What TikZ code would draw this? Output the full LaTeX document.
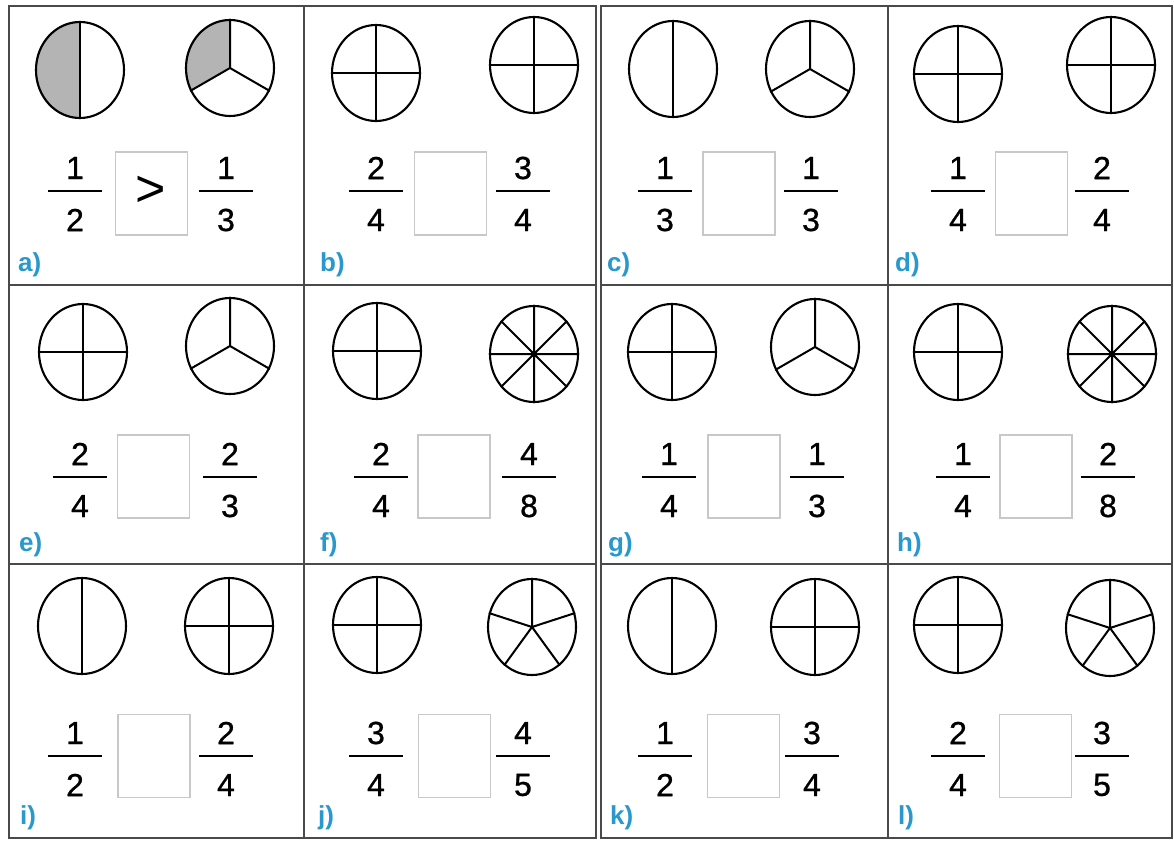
\documentclass[tikz,border=0pt]{standalone}
\usepackage{fontspec}
\setmainfont{Liberation Sans}
\newfontfamily\digitfont[FakeBold=0.8]{Liberation Sans}
\usetikzlibrary{shapes.geometric,backgrounds}
\definecolor{gridc}{HTML}{4A4A4A}
\definecolor{lblc}{RGB}{41,152,204}
\definecolor{boxc}{HTML}{C8C8C8}
\definecolor{shadec}{HTML}{B4B4B4}
\tikzset{
  disc/.style={ellipse, draw=black, line width=2.1pt, minimum width=88pt, minimum height=96pt, inner sep=0pt},
  spoke/.style={line width=2pt, draw=black},
  digit/.style={font=\digitfont\fontsize{32}{36}\selectfont, inner sep=0pt, text=black},
  fbar/.style={fill=black, minimum width=54pt, minimum height=2.8pt, inner sep=0pt},
  ansbox/.style={draw=boxc, line width=1.5pt, minimum width=72pt, minimum height=83pt, inner sep=0pt},
  lbl/.style={font=\fontsize{26}{30}\selectfont\bfseries, text=lblc, inner sep=0pt, anchor=west},
  gridline/.style={draw=gridc, line width=2.2pt},
}
\newcommand\piechart[4]{%
  \node[disc] (#1) at (#2,#3) {};
  \ifcase#4\or\or
    \draw[spoke] (#1.90) -- (#1.270);
  \or
    \draw[spoke] (#1.center) -- (#1.90) (#1.center) -- (#1.210) (#1.center) -- (#1.330);
  \or
    \draw[spoke] (#1.90) -- (#1.270) (#1.0) -- (#1.180);
  \or
    \draw[spoke] (#1.center) -- (#1.90) (#1.center) -- (#1.162) (#1.center) -- (#1.234) (#1.center) -- (#1.306) (#1.center) -- (#1.18);
  \or\or\or
    \draw[spoke] (#1.90) -- (#1.270) (#1.0) -- (#1.180) (#1.45) -- (#1.225) (#1.135) -- (#1.315);
    \fill (#1.center) circle[radius=3.5pt];
  \fi}
\newcommand\fracn[5]{%
  \node[fbar] (#1) at (#2,#3) {};
  \node[digit] (#1n) at ({#2},{#3-23}) {#4};
  \node[digit] (#1d) at ({#2},{#3+29}) {#5};}
\begin{document}
\begin{tikzpicture}[x=1pt,y=-1pt]
\useasboundingbox (0,0) rectangle (1174,841);
% grid
\draw[gridline] (9,6) rectangle (596,838);
\draw[gridline] (601,6) rectangle (1172,838);
\draw[gridline] (304,6) -- (304,838) (9,285) -- (596,285) (9,564) -- (596,564);
\draw[gridline] (888,6) -- (888,838) (601,285) -- (1172,285) (601,564) -- (1172,564);
% a
\piechart{a1}{80}{70}{2}
\piechart{a2}{230}{68}{3}
\begin{scope}[on background layer]
  \fill[white] (0,0) rectangle (1174,841);
  \fill[shadec] (a1.90) \foreach \t in {95,100,...,270}{ -- (a1.\t)} -- cycle;
  \fill[shadec] (a2.center) \foreach \t in {90,95,...,210}{ -- (a2.\t)} -- cycle;
\end{scope}
\fracn{af1}{75}{191}{1}{2}
\node[ansbox] (abox) at (151.5,193.5) {};
\node[font=\fontsize{52}{56}\selectfont, inner sep=0pt] (agt) at (151,191) {>};
\fracn{af2}{226}{191}{1}{3}
\node[lbl] (la) at (18,265) {a)};
% b
\piechart{b1}{376}{73}{4}
\piechart{b2}{534}{65}{4}
\fracn{bf1}{376}{191}{2}{4}
\node[ansbox] (bbox) at (450.5,193.5) {};
\fracn{bf2}{523}{191}{3}{4}
\node[lbl] (lb) at (320,265) {b)};
% c
\piechart{c1}{673}{69}{2}
\piechart{c2}{810}{69}{3}
\fracn{cf1}{665}{191}{1}{3}
\node[ansbox] (cbox) at (739,193.5) {};
\fracn{cf2}{811}{191}{1}{3}
\node[lbl] (lc) at (607,265) {c)};
% d
\piechart{d1}{958}{74}{4}
\piechart{d2}{1111}{65}{4}
\fracn{df1}{958}{191}{1}{4}
\node[ansbox] (dbox) at (1031.5,193.5) {};
\fracn{df2}{1102}{191}{2}{4}
\node[lbl] (ld) at (895,265) {d)};
% e
\piechart{e1}{83}{352}{4}
\piechart{e2}{230}{346}{3}
\fracn{ef1}{80}{477}{2}{4}
\node[ansbox] (ebox) at (153.5,476.5) {};
\fracn{ef2}{230}{477}{2}{3}
\node[lbl] (le) at (19,545) {e)};
% f
\piechart{f1}{377}{351}{4}
\piechart{f2}{534}{354}{8}
\fracn{ff1}{381}{477}{2}{4}
\node[ansbox] (fbox) at (454,476.5) {};
\fracn{ff2}{529}{477}{4}{8}
\node[lbl] (lf) at (320,545) {f)};
% g
\piechart{g1}{672}{352}{4}
\piechart{g2}{815}{347}{3}
\fracn{gf1}{669}{477}{1}{4}
\node[ansbox] (gbox) at (744,476.5) {};
\fracn{gf2}{817}{477}{1}{3}
\node[lbl] (lg) at (608,545) {g)};
% h
\piechart{h1}{958}{352}{4}
\piechart{h2}{1112}{354}{8}
\fracn{hf1}{963}{477}{1}{4}
\node[ansbox] (hbox) at (1036,476.5) {};
\fracn{hf2}{1108}{477}{2}{8}
\node[lbl] (lh) at (897,545) {h)};
% i
\piechart{i1}{82}{626}{2}
\piechart{i2}{229}{626}{4}
\fracn{if1}{75}{756}{1}{2}
\node[ansbox] (ibox) at (154,756) {};
\fracn{if2}{226}{756}{2}{4}
\node[lbl] (li) at (20,818) {i)};
% j
\piechart{j1}{377}{625}{4}
\piechart{j2}{532}{627}{5}
\fracn{jf1}{376}{756}{3}{4}
\node[ansbox] (jbox) at (454.5,756) {};
\fracn{jf2}{523}{756}{4}{5}
\node[lbl] (lj) at (318,818) {j)};
% k
\piechart{k1}{672}{626}{2}
\piechart{k2}{815}{627}{4}
\fracn{kf1}{665}{756}{1}{2}
\node[ansbox] (kbox) at (743.5,756) {};
\fracn{kf2}{812}{756}{3}{4}
\node[lbl] (lk) at (610,818) {k)};
% l
\piechart{l1}{958}{625}{4}
\piechart{l2}{1110}{628}{5}
\fracn{lf1}{958}{756}{2}{4}
\node[ansbox] (lbox) at (1035.5,756) {};
\fracn{lf2}{1102}{756}{3}{5}
\node[lbl] (ll) at (898,818) {l)};
\end{tikzpicture}
\end{document}
